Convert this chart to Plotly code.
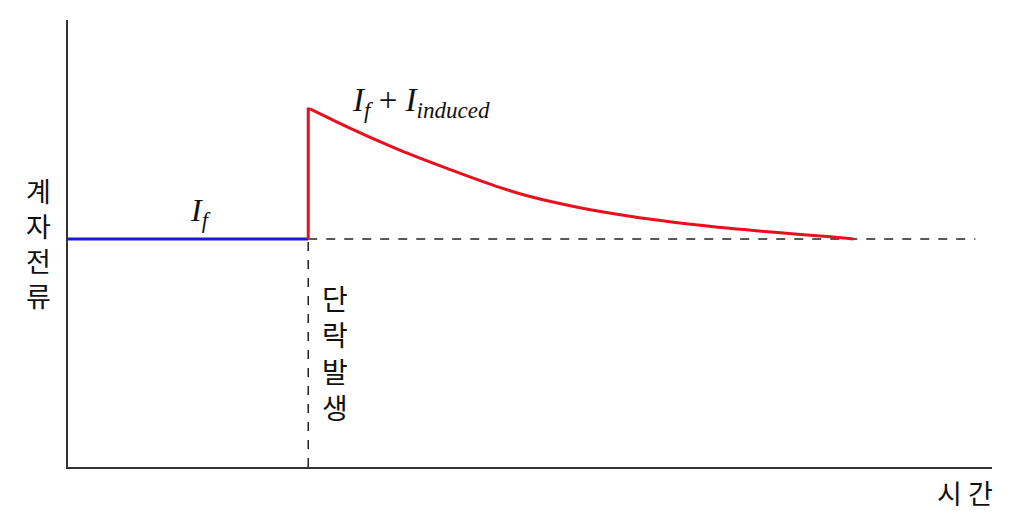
import plotly.graph_objects as go

# data (arbitrary units: time 0..10, current 0..10)
t_fault = 2.6
i_f = 5.1
i_peak = 8.01
t_dash_end = 9.82
pre_t = [0.0, 2.6]
pre_i = [5.1, 5.1]
decay_t = [2.62, 3.05, 3.59, 4.13, 4.68, 5.00, 5.54, 6.08, 6.62, 7.16, 7.71, 8.25, 8.50]
decay_i = [8.01, 7.58, 7.09, 6.66, 6.25, 6.05, 5.80, 5.61, 5.46, 5.34, 5.24, 5.15, 5.10]

fig = go.Figure()
fig.add_trace(go.Scatter(x=[t_fault, t_dash_end], y=[i_f, i_f], mode="lines",
                         line=dict(color="#222222", width=1.5, dash="dash"), hoverinfo="skip"))
fig.add_trace(go.Scatter(x=[t_fault, t_fault], y=[0, i_f], mode="lines",
                         line=dict(color="#222222", width=1.5, dash="dash"), hoverinfo="skip"))
fig.add_trace(go.Scatter(x=pre_t, y=pre_i, mode="lines",
                         line=dict(color="#1a1acc", width=3)))
fig.add_trace(go.Scatter(x=[t_fault, t_fault, decay_t[0]], y=[i_f, i_peak, decay_i[0]], mode="lines",
                         line=dict(color="#e8101e", width=3)))
fig.add_trace(go.Scatter(x=decay_t, y=decay_i, mode="lines", line_shape="spline",
                         line=dict(color="#e8101e", width=3, smoothing=1.0)))

serif = "Liberation Serif, Times New Roman, serif"
kr = "Noto Sans CJK KR, sans-serif"
fig.add_annotation(x=0.143, y=0.57, text="<i>I</i><sub><i>f</i></sub>",
                   font=dict(family=serif, size=32, color="#111111"))
fig.add_annotation(x=0.382, y=0.815, text="<i>I</i><sub><i>f</i></sub> + <i>I</i><sub><i>induced</i></sub>",
                   font=dict(family=serif, size=33, color="#111111"))
fig.add_annotation(x=0.289, y=0.257, text="단<br>락<br>발<br>생",
                   font=dict(family=kr, size=28, color="#111111"))
fig.add_annotation(x=-0.032, y=0.501, text="계<br>자<br>전<br>류",
                   font=dict(family=kr, size=27, color="#111111"))
fig.add_annotation(x=0.971, y=-0.058, text="시 간",
                   font=dict(family=kr, size=27, color="#111111"))
fig.update_annotations(xref="paper", yref="paper", showarrow=False,
                       xanchor="center", yanchor="middle")

fig.update_xaxes(range=[0, 10], showline=True, linecolor="#333333", linewidth=2,
                 showgrid=False, zeroline=False, showticklabels=False, ticks="")
fig.update_yaxes(range=[0, 10], showline=True, linecolor="#333333", linewidth=2,
                 showgrid=False, zeroline=False, showticklabels=False, ticks="")
fig.update_layout(width=1016, height=510, showlegend=False,
                  margin=dict(l=60, r=32, t=12, b=51),
                  paper_bgcolor="white", plot_bgcolor="white")
fig.write_html("out.html")
